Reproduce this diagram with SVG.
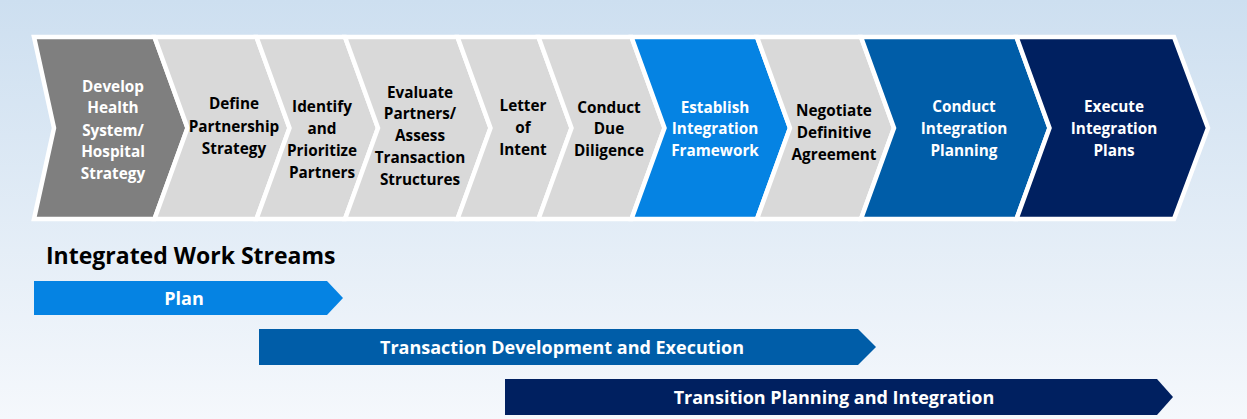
<svg xmlns="http://www.w3.org/2000/svg" width="1247" height="419" viewBox="0 0 1247 419">
  <defs>
    <linearGradient id="bg" x1="0" y1="0" x2="0" y2="1">
      <stop offset="0" stop-color="#cddff0"/>
      <stop offset="1" stop-color="#f5f8fc"/>
    </linearGradient>
    <style>
      .chev { stroke: #ffffff; stroke-width: 4.5; stroke-linejoin: miter; }
      .gray { fill: #7f7f7f; }
      .light { fill: #d9d9d9; }
      .blue { fill: #0583e3; }
      .mid { fill: #005da8; }
      .navy { fill: #002060; }
      .lbl { font-family: "Open Sans", "Noto Sans", "Liberation Sans", sans-serif; font-weight: bold; font-size: 15.3px; text-anchor: middle; }
      .dark { fill: #000000; }
      .white { fill: #ffffff; }
      .head { font-family: "Open Sans", "Noto Sans", "Liberation Sans", sans-serif; font-weight: bold; font-size: 23px; fill: #000000; }
      .bar { font-family: "Open Sans", "Noto Sans", "Liberation Sans", sans-serif; font-weight: bold; font-size: 18px; fill: #ffffff; text-anchor: middle; }
    </style>
  </defs>

  <rect x="0" y="0" width="1247" height="419" fill="url(#bg)"/>

  <!-- process chevrons -->
  <g id="step-develop-strategy">
    <polygon class="chev gray" points="34,37 154.5,37 187.5,128 154.5,219 34,219 54,128"/>
    <text class="lbl white"><tspan x="113" y="92">Develop</tspan><tspan x="113" y="113">Health</tspan><tspan x="113" y="136">System/</tspan><tspan x="113" y="157">Hospital</tspan><tspan x="113" y="179">Strategy</tspan></text>
  </g>
  <g id="step-define-partnership">
    <polygon class="chev light" points="154.5,37 256.5,37 289.5,128 256.5,219 154.5,219 187.5,128"/>
    <text class="lbl dark"><tspan x="234" y="109">Define</tspan><tspan x="234" y="132">Partnership</tspan><tspan x="234" y="154">Strategy</tspan></text>
  </g>
  <g id="step-identify-partners">
    <polygon class="chev light" points="256.5,37 345,37 378,128 345,219 256.5,219 289.5,128"/>
    <text class="lbl dark"><tspan x="322" y="112">Identify</tspan><tspan x="322" y="134">and</tspan><tspan x="322" y="156">Prioritize</tspan><tspan x="322" y="178">Partners</tspan></text>
  </g>
  <g id="step-evaluate-partners">
    <polygon class="chev light" points="345,37 457.5,37 490.5,128 457.5,219 345,219 378,128"/>
    <text class="lbl dark"><tspan x="420" y="98">Evaluate</tspan><tspan x="420" y="119">Partners/</tspan><tspan x="420" y="141">Assess</tspan><tspan x="420" y="163">Transaction</tspan><tspan x="420" y="185">Structures</tspan></text>
  </g>
  <g id="step-letter-of-intent">
    <polygon class="chev light" points="457.5,37 538.5,37 571.5,128 538.5,219 457.5,219 490.5,128"/>
    <text class="lbl dark"><tspan x="523" y="111">Letter</tspan><tspan x="523" y="133">of</tspan><tspan x="523" y="155">Intent</tspan></text>
  </g>
  <g id="step-due-diligence">
    <polygon class="chev light" points="538.5,37 631.5,37 664.5,128 631.5,219 538.5,219 571.5,128"/>
    <text class="lbl dark"><tspan x="609" y="113">Conduct</tspan><tspan x="609" y="134">Due</tspan><tspan x="609" y="156">Diligence</tspan></text>
  </g>
  <g id="step-integration-framework">
    <polygon class="chev blue" points="631.5,37 757,37 790,128 757,219 631.5,219 664.5,128"/>
    <text class="lbl white"><tspan x="715" y="113">Establish</tspan><tspan x="715" y="134">Integration</tspan><tspan x="715" y="156">Framework</tspan></text>
  </g>
  <g id="step-definitive-agreement">
    <polygon class="chev light" points="757,37 861,37 894,128 861,219 757,219 790,128"/>
    <text class="lbl dark"><tspan x="834" y="116">Negotiate</tspan><tspan x="834" y="138">Definitive</tspan><tspan x="834" y="160">Agreement</tspan></text>
  </g>
  <g id="step-integration-planning">
    <polygon class="chev mid" points="861,37 1016.5,37 1049.5,128 1016.5,219 861,219 894,128"/>
    <text class="lbl white"><tspan x="964" y="112">Conduct</tspan><tspan x="964" y="134">Integration</tspan><tspan x="964" y="156">Planning</tspan></text>
  </g>
  <g id="step-execute-plans">
    <polygon class="chev navy" points="1016.5,37 1174,37 1208,128 1174,219 1016.5,219 1049.5,128"/>
    <text class="lbl white"><tspan x="1114" y="112">Execute</tspan><tspan x="1114" y="134">Integration</tspan><tspan x="1114" y="156">Plans</tspan></text>
  </g>

  <!-- work streams -->
  <g id="work-streams-title">
    <text class="head" x="46" y="264">Integrated Work Streams</text>
  </g>
  <g id="stream-plan">
    <polygon class="blue" points="34,281 327,281 343,298 327,315 34,315"/>
    <text class="bar" x="184" y="305">Plan</text>
  </g>
  <g id="stream-transaction">
    <polygon class="mid" points="259,329 858,329 876,347 858,365 259,365"/>
    <text class="bar" x="562" y="354">Transaction Development and Execution</text>
  </g>
  <g id="stream-transition">
    <polygon class="navy" points="505,379 1157,379 1173,397 1157,415 505,415"/>
    <text class="bar" x="834" y="404">Transition Planning and Integration</text>
  </g>

  <!-- the steps abut directly, so no connector lines are drawn -->
  <g id="connectors"/>
</svg>
